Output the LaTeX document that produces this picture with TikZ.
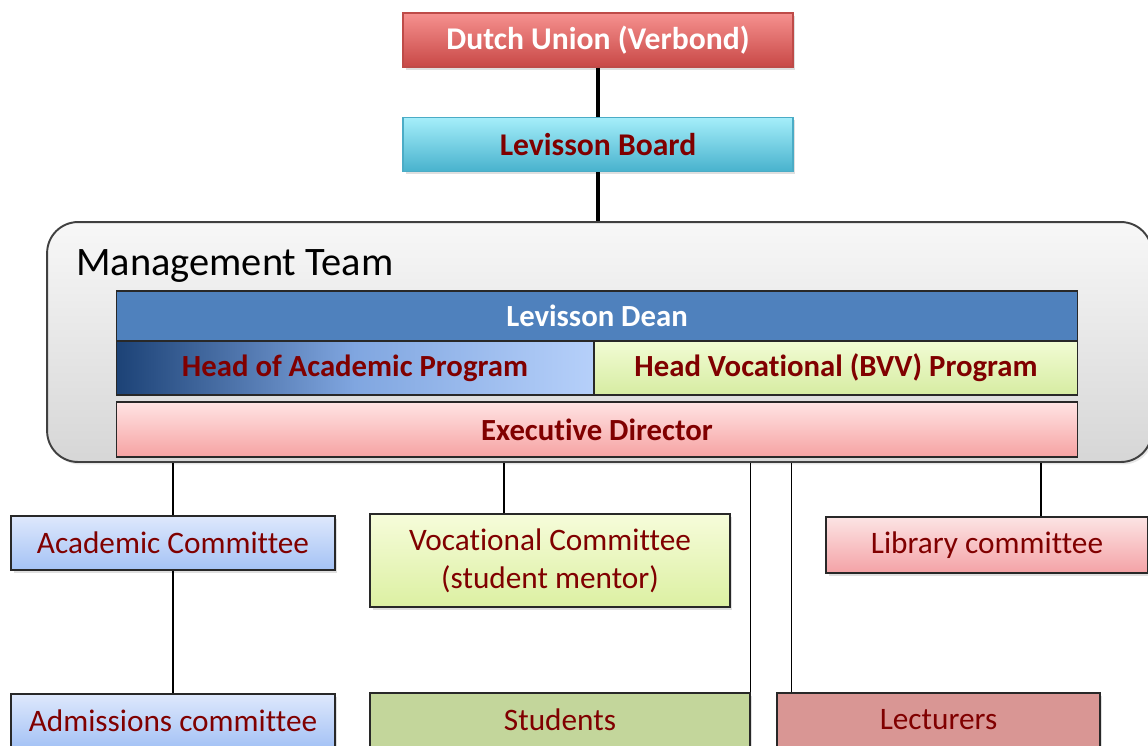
\documentclass[tikz,border=0pt]{standalone}
\usepackage{fontspec}
\setmainfont[Ligatures=NoCommon]{Carlito}
\usepackage{tikz}
\usetikzlibrary{shadows}
\definecolor{textred}{RGB}{128,0,0}
\definecolor{boxline}{RGB}{40,40,40}
\tikzstyle{orgbox} = [rectangle, draw=boxline, line width=0.7pt, inner sep=0pt, align=center, text=textred, drop shadow={opacity=0.25, shadow xshift=0.05cm, shadow yshift=-0.06cm}]
\tikzstyle{topbox} = [orgbox, minimum width=7.8cm, minimum height=1.08cm, font=\fontsize{18}{21}\selectfont\bfseries]
\tikzstyle{mtbox} = [rectangle, draw=boxline, line width=0.6pt, inner sep=0pt, text=textred, font=\fontsize{17.5}{20}\selectfont\bfseries]
\tikzstyle{lowbox} = [orgbox, minimum width=6.48cm, minimum height=1.08cm, font=\fontsize{17.8}{21.5}\selectfont]
\tikzstyle{line} = [draw, line width=0.9pt]
\tikzstyle{thickline} = [draw, line width=2pt]

\begin{document}
\begin{tikzpicture}[x=0.02cm, y=-0.02cm]
    \useasboundingbox (0,0) rectangle (1148,745);
    % top of the chart
    \node [topbox, draw={rgb,255:red,190;green,75;blue,72}, top color={rgb,255:red,246;green,145;blue,143}, bottom color={rgb,255:red,200;green,72;blue,70}, text=white] (union) at (598,40) {Dutch Union (Verbond)};
    \node [topbox, draw={rgb,255:red,75;green,172;blue,198}, top color={rgb,255:red,165;green,238;blue,250}, bottom color={rgb,255:red,72;green,178;blue,205}, below of=union, node distance=2.09cm] (board) {Levisson Board};
    % management team
    \node [rectangle, rounded corners=0.62cm, draw=black!75, line width=1.1pt, top color=gray!6, bottom color=gray!32, minimum width=22.1cm, minimum height=4.8cm, drop shadow={opacity=0.2, shadow xshift=0.04cm, shadow yshift=-0.05cm}] (mgmt) at (599.5,342) {};
    \node [anchor=west, inner sep=0pt, font=\fontsize{23}{27}\selectfont] (mtlabel) at (76,266) {Management Team};
    \node [mtbox, fill={rgb,255:red,79;green,129;blue,189}, text=white, minimum width=19.24cm, minimum height=1.0cm] (dean) at (597,316) {Levisson Dean};
    \node [mtbox, left color={rgb,255:red,28;green,66;blue,118}, right color={rgb,255:red,182;green,208;blue,250}, middle color={rgb,255:red,128;green,166;blue,224}, minimum width=9.56cm, minimum height=1.08cm] (acadprog) at (355,368) {Head of Academic Program};
    \node [mtbox, top color={rgb,255:red,242;green,252;blue,212}, bottom color={rgb,255:red,214;green,236;blue,162}, minimum width=9.68cm, minimum height=1.08cm] (vocprog) at (836,368) {Head Vocational (BVV) Program};
    \node [mtbox, top color={rgb,255:red,255;green,228;blue,228}, bottom color={rgb,255:red,246;green,162;blue,162}, minimum width=19.24cm, minimum height=1.1cm] (exec) at (597,429.5) {Executive Director};
    % committees
    \node [lowbox, top color={rgb,255:red,222;green,232;blue,252}, bottom color={rgb,255:red,164;green,194;blue,245}] (acad) at (173,543) {Academic Committee};
    \node [lowbox, top color={rgb,255:red,246;green,252;blue,218}, bottom color={rgb,255:red,220;green,240;blue,162}, minimum width=7.2cm, minimum height=1.86cm] (voc) at (550,560.5) {Vocational Committee\\(student mentor)};
    \node [lowbox, top color={rgb,255:red,252;green,228;blue,228}, bottom color={rgb,255:red,244;green,162;blue,166}, minimum width=6.44cm, minimum height=1.12cm] (lib) at (987,545) {Library committee};
    \node [lowbox, top color={rgb,255:red,222;green,232;blue,252}, bottom color={rgb,255:red,164;green,194;blue,245}] (adm) at (173,721) {Admissions committee};
    \node [lowbox, fill={rgb,255:red,195;green,214;blue,155}, minimum width=7.6cm] (students) at (560,720) {Students};
    \node [lowbox, fill={rgb,255:red,217;green,150;blue,148}, minimum width=6.46cm] (lect) at (938.5,720) {Lecturers};
    % connectors
    \path [thickline] (union) -- (board);
    \path [thickline] (board) -- (board |- mgmt.north);
    \path [line] (acad.north) -- (acad.north |- mgmt.south);
    \path [line] (acad) -- (adm);
    \path [line] ([xshift=-0.92cm]voc.north) -- ([xshift=-0.92cm]voc.north |- mgmt.south);
    \path [line] (students.north east) -- (students.north east |- mgmt.south);
    \path [line] ([xshift=0.3cm]lect.north west) -- ([xshift=0.3cm]lect.north west |- mgmt.south);
    \path [line] ([xshift=1.08cm]lib.north) -- ([xshift=1.08cm]lib.north |- mgmt.south);
  \end{tikzpicture}
\end{document}
